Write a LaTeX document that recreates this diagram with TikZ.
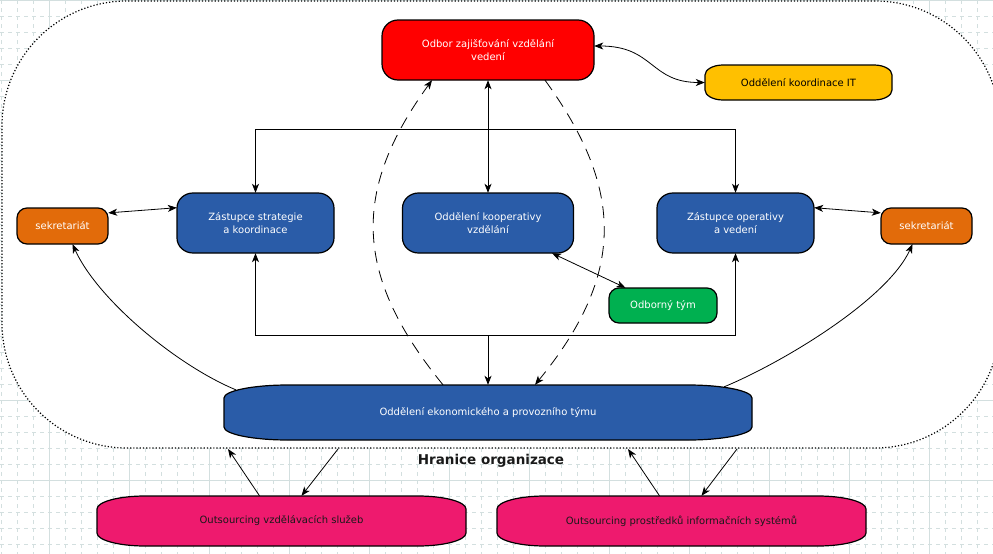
\documentclass[tikz,border=0pt]{standalone}
\usepackage{fontspec}
\setmainfont{DejaVu Sans}
\usepackage{xcolor}
\usepackage{tikz}
\usetikzlibrary{arrows.meta,calc,positioning}
\definecolor{odborred}{HTML}{FF0000}
\definecolor{ityellow}{HTML}{FFC000}
\definecolor{sekorange}{HTML}{E26B0A}
\definecolor{zastblue}{HTML}{2A5CA8}
\definecolor{tymgreen}{HTML}{00B050}
\definecolor{outpink}{HTML}{EE1A6E}
\definecolor{gridgray}{HTML}{D3DFDF}
\tikzset{ORG style/.style={x=1pt,y=-1pt,
	grid line/.style={gridgray, line width=0.9pt, dash pattern=on 4pt off 4pt},
	boundary/.style={draw, fill=white, line width=1.2pt, dash pattern=on 1.2pt off 2pt, rounded corners=125pt, minimum width=998pt, minimum height=447pt, inner sep=0pt},
	box text/.style={font=\fontsize{10}{13}\selectfont, align=center, inner sep=0pt, text=white},
	link/.style={line width=0.8pt, arrows={-Stealth[length=9pt, width=7pt, inset=2.5pt]}},
	link2/.style={line width=0.8pt, arrows={Stealth[length=9pt, width=7pt, inset=2.5pt]-Stealth[length=9pt, width=7pt, inset=2.5pt]}},
	dashed link/.style={link, dash pattern=on 12pt off 8pt}}}
% box outline: centre x, centre y, width, height, corner rx, corner ry, colour
\newcommand{\orgbox}[7]{%
	\filldraw[fill=#7, line width=1.2pt]
	({#1-#3/2+#5},{#2-#4/2}) -- ({#1+#3/2-#5},{#2-#4/2})
	.. controls +({0.55*#5},0) and +(0,{-0.55*#6}) .. ({#1+#3/2},{#2-#4/2+#6})
	-- ({#1+#3/2},{#2+#4/2-#6})
	.. controls +(0,{0.55*#6}) and +({0.55*#5},0) .. ({#1+#3/2-#5},{#2+#4/2})
	-- ({#1-#3/2+#5},{#2+#4/2})
	.. controls +({-0.55*#5},0) and +(0,{0.55*#6}) .. ({#1-#3/2},{#2+#4/2-#6})
	-- ({#1-#3/2},{#2-#4/2+#6})
	.. controls +(0,{-0.55*#6}) and +({-0.55*#5},0) .. ({#1-#3/2+#5},{#2-#4/2}) -- cycle;}

\begin{document}
\begin{tikzpicture}[ORG style]
	\useasboundingbox (0,0) rectangle (993,554);
	
	% grid of the sheet
	\foreach \gx in {1,17,...,993}
		\draw[grid line] (\gx,0) -- (\gx,554);
	\foreach \gy in {0,16,...,554}
		\draw[grid line] (0,\gy) -- (993,\gy);
	\foreach \gx in {49,129,...,993}
		\draw[grid line, solid] (\gx,0) -- (\gx,554);
	\foreach \gy in {0,80,...,554}
		\draw[grid line, solid] (0,\gy) -- (993,\gy);
	
	\node[boundary] (org) at (501,224.5) {};
	\node[font=\bfseries\fontsize{13.5}{16}\selectfont, text=black!90] (hranice) at (491,461) {Hranice organizace};
	
	\orgbox{488}{50}{212}{60}{16}{16}{odborred}
	\node[box text, minimum width=212pt, minimum height=60pt] (odbor) at (488,50) {Odbor zajišťování vzdělání\\vedení};
	
	\orgbox{798.5}{82.5}{187}{35}{18}{10}{ityellow}
	\node[box text, text=black, minimum width=187pt, minimum height=35pt] (it) at (798.5,82.5) {Oddělení koordinace IT};
	
	\orgbox{62.5}{226}{91}{36}{10}{10}{sekorange}
	\node[box text, minimum width=91pt, minimum height=36pt] (sekl) at (62.5,226) {sekretariát};
	
	\orgbox{255.5}{223}{157}{60}{16}{15}{zastblue}
	\node[box text, minimum width=157pt, minimum height=60pt] (zs) at (255.5,223) {Zástupce strategie\\a koordinace};
	
	\orgbox{488}{223}{171}{60}{16}{15}{zastblue}
	\node[box text, minimum width=171pt, minimum height=60pt] (ok) at (488,223) {Oddělení kooperativy\\vzdělání};
	
	\orgbox{735.5}{223}{157}{60}{16}{15}{zastblue}
	\node[box text, minimum width=157pt, minimum height=60pt] (zo) at (735.5,223) {Zástupce operativy\\a vedení};
	
	\orgbox{926.5}{226}{91}{36}{10}{10}{sekorange}
	\node[box text, minimum width=91pt, minimum height=36pt] (sekr) at (926.5,226) {sekretariát};
	
	\orgbox{663}{305.5}{108}{35}{10}{10}{tymgreen}
	\node[box text, minimum width=108pt, minimum height=35pt] (ot) at (663,305.5) {Odborný tým};
	
	\orgbox{488}{412.5}{528}{55}{64}{13}{zastblue}
	\node[box text, minimum width=528pt, minimum height=55pt] (eko) at (488,412.5) {Oddělení ekonomického a provozního týmu};
	
	\orgbox{281.5}{521}{369}{50}{48}{13}{outpink}
	\node[box text, text=black!90, minimum width=369pt, minimum height=50pt] (osl) at (281.5,521) {Outsourcing vzdělávacích služeb};
	
	\orgbox{681.5}{521}{369}{50}{48}{13}{outpink}
	\node[box text, text=black!90, minimum width=369pt, minimum height=50pt] (ois) at (681.5,521) {Outsourcing prostředků informačních systémů};
	
	\coordinate (tb) at (488,129);
	\coordinate (bb) at (488,335);
	\coordinate (b1) at (228,449);
	\coordinate (b2) at (338,449);
	\coordinate (b3) at (628,449);
	\coordinate (b4) at (737,449);
	
	\draw[link2] ($(odbor.east)+(0,-4)$) .. controls +(60,0) and +(-55,0) .. (it.west);
	\draw[link2] (odbor) -- (ok);
	\draw[link] (tb) -| (zs);
	\draw[link] (tb) -| (zo);
	\draw[link] (bb) -- (eko);
	\draw[link] (bb) -| (zs);
	\draw[link] (bb) -| (zo);
	\draw[link2] (ok) -- (ot);
	\draw[link2] (sekl.16) -- (zs.169);
	\draw[link2] (zo.11) -- (sekr.164);
	
	\draw[link] ($(eko.north west)+(12,5)$) .. controls +(-60,-25) and +(25,55) .. ($(sekl.south)+(10,0)$);
	\draw[link] ($(eko.north east)+(-28,2)$) .. controls +(60,-25) and +(-25,55) .. ($(sekr.south)+(-14,0)$);
	
	\draw[dashed link] ($(eko.north)+(-45,0)$) .. controls +(-90,-110) and +(-80,110) .. ($(odbor.south)+(-56,0)$);
	\draw[dashed link] ($(odbor.south)+(57,0)$) .. controls +(80,110) and +(90,-110) .. ($(eko.north)+(47,0)$);
	
	\draw[link] ($(osl.north)+(-22,0)$) -- (b1);
	\draw[link] (b2) -- ($(osl.north)+(20,0)$);
	\draw[link] ($(ois.north)+(-22,0)$) -- (b3);
	\draw[link] (b4) -- ($(ois.north)+(20,0)$);
\end{tikzpicture}
\end{document}
